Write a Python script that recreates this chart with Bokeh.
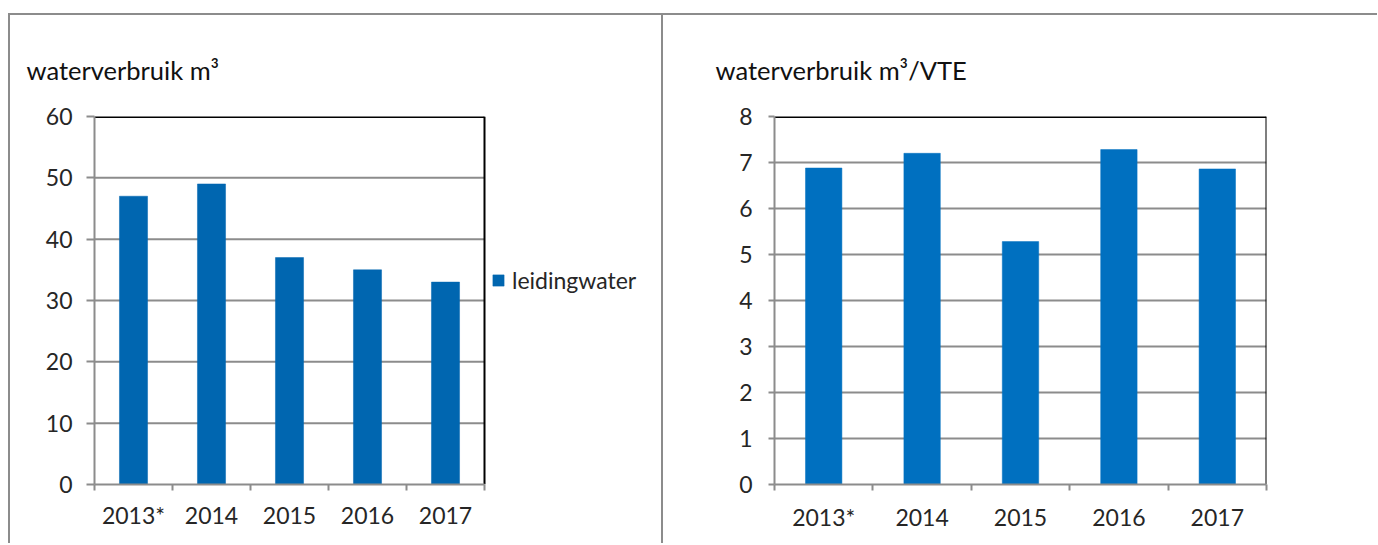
from bokeh.plotting import figure
from bokeh.models import Range1d, FixedTicker, Legend, LegendItem, Spacer
from bokeh.layouts import row, column
from bokeh.embed import file_html
from bokeh.resources import INLINE

# ---- data ----
years = ["2013*", "2014", "2015", "2016", "2017"]
usage_m3 = [47, 49, 37, 35, 33]
usage_per_fte = [6.88, 7.2, 5.28, 7.28, 6.86]
left_y_ticks = [0, 10, 20, 30, 40, 50, 60]
right_y_ticks = [0, 1, 2, 3, 4, 5, 6, 7, 8]
left_title = "waterverbruik m³"
right_title = "waterverbruik m³/VTE"
series_name = "leidingwater"

FONT = "Lato"
GRAY = "#8c8c8c"
TEXT = "#262626"
FRAME = "2px solid #8c8c8c"


def make_chart(values, yticks, title, color, bar_width, w, h, bl, bt, br, bb,
               plot_px, title_offset, ylab_standoff, ytick_out, xlab_standoff, styles):
    n = len(years)
    centers = [i + 0.5 for i in range(n)]
    frame_w = w - bl - br
    x_end = n * frame_w / plot_px      # extra room right of the plot for the legend
    y0, y1 = yticks[0], yticks[-1]
    p = figure(width=w, height=h,
               x_range=Range1d(0, x_end), y_range=Range1d(y0, y1),
               output_backend="svg", toolbar_location=None, title=title,
               min_border_left=bl, min_border_top=bt, min_border_right=br,
               min_border_bottom=bb)
    p.styles = styles
    p.outline_line_color = None
    p.background_fill_color = "white"
    p.border_fill_color = "white"
    p.xgrid.visible = False
    p.ygrid.visible = False

    inner = yticks[1:-1]
    p.segment(x0=[0] * len(inner), x1=[n] * len(inner), y0=inner, y1=inner,
              line_color=GRAY, line_width=2)
    r = p.vbar(x=centers, top=values, width=bar_width, bottom=0,
               fill_color=color, line_color=color, line_width=0.5)
    # black top and right border of the plot area
    p.segment(x0=[0, n], x1=[n, n], y0=[y1, y0], y1=[y1, y1],
              line_color="black", line_width=[3, 2])

    p.title.align = "left"
    p.title.offset = title_offset
    p.title.standoff = 64
    p.title.text_font = FONT
    p.title.text_font_size = "25.5px"
    p.title.text_font_style = "normal"
    p.title.text_color = "#111111"

    xa = p.xaxis[0]
    xa.bounds = (0, n)
    xa.ticker = FixedTicker(ticks=centers, minor_ticks=list(range(n + 1)))
    xa.major_label_overrides = {c: y for c, y in zip(centers, years)}
    xa.major_tick_line_color = None
    xa.minor_tick_line_color = GRAY
    xa.minor_tick_line_width = 2
    xa.minor_tick_out = 6
    xa.minor_tick_in = 0
    xa.axis_line_color = GRAY
    xa.axis_line_width = 2
    xa.major_label_text_font = FONT
    xa.major_label_text_font_size = "23px"
    xa.major_label_text_color = TEXT
    xa.major_label_standoff = xlab_standoff

    ya = p.yaxis[0]
    ya.ticker = FixedTicker(ticks=yticks, minor_ticks=[])
    ya.major_tick_line_color = GRAY
    ya.major_tick_line_width = 2
    ya.major_tick_out = ytick_out
    ya.major_tick_in = 0
    ya.minor_tick_line_color = None
    ya.axis_line_color = GRAY
    ya.axis_line_width = 2
    ya.major_label_text_font = FONT
    ya.major_label_text_font_size = "23px"
    ya.major_label_text_color = TEXT
    ya.major_label_standoff = ylab_standoff
    return p, r


p1, r1 = make_chart(usage_m3, left_y_ticks, left_title, "#0066B0", 0.36,
                    655, 530, 84, 100, 2, 48, 390, -68, 14, 8, 10,
                    {"border-top": FRAME, "border-left": FRAME, "border-right": FRAME})
legend = Legend(items=[LegendItem(label=series_name, renderers=[r1])],
                location=(397, 190), margin=0, padding=0,
                glyph_width=14, glyph_height=14, label_standoff=7,
                label_text_font=FONT, label_text_font_size="23px",
                label_text_color=TEXT, border_line_color=None,
                background_fill_alpha=0)
p1.add_layout(legend, "center")

p2, r2 = make_chart(usage_per_fte, right_y_ticks, right_title, "#0070C0", 0.37,
                    714, 530, 111, 101, 111, 61, 492, -59, 16, 6, 12,
                    {"border-top": FRAME})

layout = column(Spacer(width=10, height=13), row(Spacer(width=8, height=10), p1, p2))
open("out.html", "w").write(file_html(layout, INLINE))
